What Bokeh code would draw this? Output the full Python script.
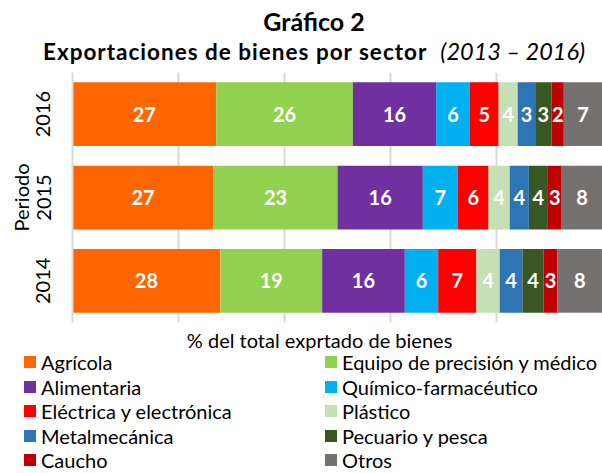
import numpy as np
from bokeh.plotting import figure
from bokeh.layouts import column
from bokeh.models import ColumnDataSource, FixedTicker, Div
from bokeh.core.properties import value
from bokeh.embed import file_html
from bokeh.resources import INLINE

FONT = "Lato"

title_1 = "Gráfico 2"
title_2 = "Exportaciones de bienes por sector"
title_3 = "(2013 – 2016)"
x_title = "% del total exprtado de bienes"
y_title = "Periodo"

years = ["2014", "2015", "2016"]
sectors = ["Agrícola", "Equipo de precisión y médico", "Alimentaria",
           "Químico-farmacéutico", "Eléctrica y electrónica", "Plástico",
           "Metalmecánica", "Pecuario y pesca", "Caucho", "Otros"]
colors = ["#FF6600", "#92D050", "#7030A0", "#00B0F0", "#FF0000",
          "#C5E0B4", "#2E75B6", "#385723", "#C00000", "#767171"]

# values per sector for 2014, 2015, 2016 (% of total exported goods)
agricola = [27.9, 26.6, 27.1]
equipo = [19.2, 23.4, 25.8]
alimentaria = [15.6, 16.1, 15.7]
quimico = [6.3, 6.6, 6.4]
electrica = [7.2, 5.8, 5.4]
plastico = [4.4, 4.0, 3.6]
metalmecanica = [4.3, 3.6, 3.3]
pecuario = [4.0, 3.6, 3.1]
caucho = [2.6, 2.6, 2.3]
otros = [8.4, 7.7, 7.3]

grid_ticks = [0, 20, 40, 60, 80, 100]

series = [agricola, equipo, alimentaria, quimico, electrica, plastico,
          metalmecanica, pecuario, caucho, otros]
keys = ["s%d" % i for i in range(len(series))]

data = {"year": years}
for k, s in zip(keys, series):
    data[k] = s
source = ColumnDataSource(data)

# ---------------- title ----------------
title_html = (
    '<div style="font-family: Lato, sans-serif; color: #000; text-align: center; '
    'width: 602px; height: 66px; box-sizing: border-box; padding-left: 26px; '
    'padding-top: 7px; white-space: nowrap; overflow: hidden;">'
    '<div style="font-size: 25px; font-weight: bold; line-height: 28px;">%s</div>'
    '<div style="font-size: 22.5px; line-height: 30px; margin-top: 1px;">'
    '<span style="font-weight: bold; letter-spacing: 1px;">%s</span>'
    '<span style="font-size: 23.5px; font-style: italic; margin-left: 13px;">%s</span>'
    '</div></div>' % (title_1, title_2, title_3)
)
title_div = Div(text=title_html, width=602, height=66, margin=(0, 0, 0, 0))

# ---------------- main chart ----------------
p = figure(y_range=years, x_range=(0, 100), width=602, height=288,
           output_backend="svg", toolbar_location=None,
           min_border_left=72, min_border_right=0,
           min_border_top=6, min_border_bottom=26, margin=(0, 0, 0, 0))
p.outline_line_color = None

renderers = p.hbar_stack(keys, y="year", height=0.765, color=colors,
                         line_color=None, source=source)

arr = np.array(series)  # sectors x years
cum = np.cumsum(arr, axis=0)
lx, ly, lt = [], [], []
for i in range(arr.shape[0]):
    for j, yr in enumerate(years):
        lx.append(cum[i, j] - arr[i, j] / 2.0)
        ly.append(yr)
        lt.append(str(int(round(arr[i, j]))))
lab_src = ColumnDataSource(dict(x=lx, y=ly, t=lt))
p.text(x="x", y="y", text="t", source=lab_src, text_align="center",
       text_baseline="middle", text_color="white", text_font=value(FONT),
       text_font_style="bold", text_font_size="20px")

p.xaxis.ticker = FixedTicker(ticks=[])
p.xaxis.major_tick_line_color = None
p.xaxis.minor_tick_line_color = None
p.xaxis.axis_line_color = None
# trailing no-break spaces shift the centred title a little to the left, as in the original
p.xaxis.axis_label = x_title + "\u00a0" * 7
p.xaxis.axis_label_text_font = FONT
p.xaxis.axis_label_text_font_style = "normal"
p.xaxis.axis_label_text_font_size = "20px"
p.xaxis.axis_label_text_color = "black"
p.xaxis.axis_label_standoff = 5

p.yaxis.axis_label = y_title
p.yaxis.axis_label_text_font = FONT
p.yaxis.axis_label_text_font_style = "normal"
p.yaxis.axis_label_text_font_size = "20px"
p.yaxis.axis_label_text_color = "black"
p.yaxis.axis_label_standoff = 1
p.yaxis.major_label_orientation = "vertical"
p.yaxis.major_label_text_font = FONT
p.yaxis.major_label_text_font_size = "20px"
p.yaxis.major_label_text_color = "black"
p.yaxis.major_label_standoff = 16
p.yaxis.major_tick_line_color = None
p.yaxis.minor_tick_line_color = None
p.yaxis.axis_line_color = "#d9d9d9"
p.yaxis.axis_line_width = 2

p.xgrid.ticker = FixedTicker(ticks=grid_ticks)
p.xgrid.grid_line_color = "#d9d9d9"
p.xgrid.grid_line_width = 2
p.ygrid.grid_line_color = None

# ---------------- legend (two columns, row-major) ----------------
col_left = [24, 325]
row_pitch = 24.5
first_center = 8
parts = ['<div style="position: relative; width: 602px; height: 119px; '
         'font-family: Lato, sans-serif; font-size: 20px; color: #000;">']
for i, (s, c) in enumerate(zip(sectors, colors)):
    row, col = divmod(i, 2)
    top = first_center + row * row_pitch - 10
    parts.append(
        '<div style="position: absolute; left: %dpx; top: %.1fpx; height: 20px; '
        'display: flex; align-items: center; white-space: nowrap; line-height: 20px;">'
        '<span style="display: inline-block; width: 12px; height: 12px; '
        'background: %s; margin-right: 5px;"></span><span>%s</span></div>'
        % (col_left[col], top, c, s))
parts.append('</div>')
legend_div = Div(text="".join(parts), width=602, height=119, margin=(0, 0, 0, 0))

layout = column(title_div, p, legend_div, spacing=0)
open("out.html", "w").write(file_html(layout, INLINE))
